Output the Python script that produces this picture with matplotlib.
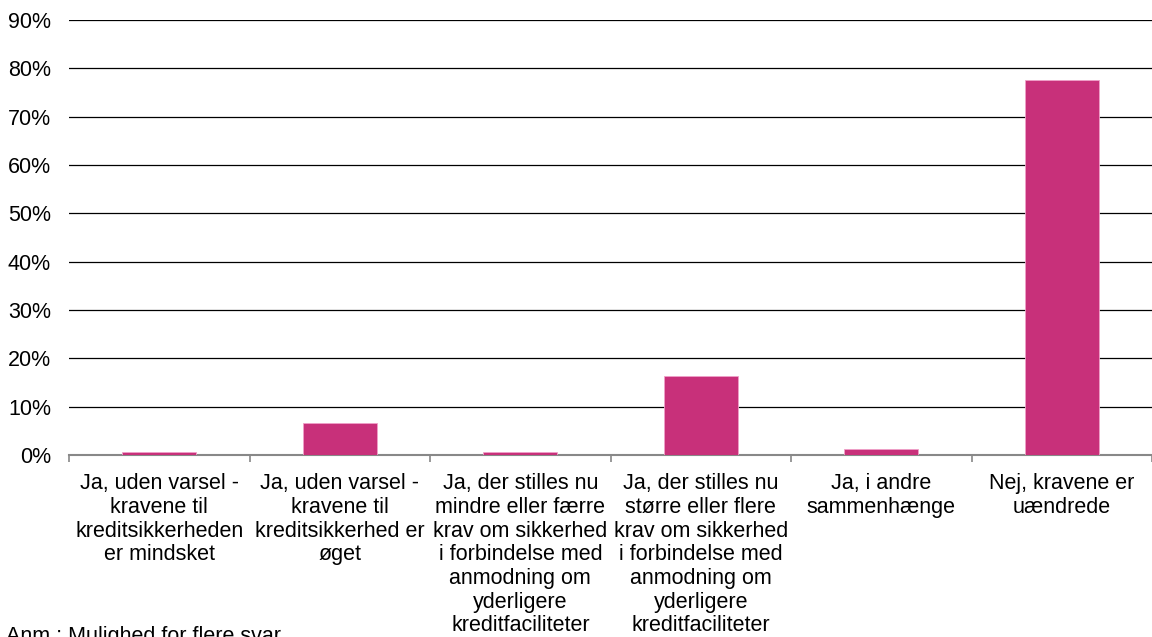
import matplotlib.pyplot as plt
import numpy as np

plt.rcParams['font.family'] = ['Liberation Sans', 'DejaVu Sans']

categories = [
    "Ja, uden varsel -\nkravene til\nkreditsikkerheden\ner mindsket",
    "Ja, uden varsel -\nkravene til\nkreditsikkerhed er\nøget",
    "Ja, der stilles nu\nmindre eller færre\nkrav om sikkerhed\ni forbindelse med\nanmodning om\nyderligere\nkreditfaciliteter",
    "Ja, der stilles nu\nstørre eller flere\nkrav om sikkerhed\ni forbindelse med\nanmodning om\nyderligere\nkreditfaciliteter",
    "Ja, i andre\nsammenhænge",
    "Nej, kravene er\nuændrede",
]
values = [0.7, 6.6, 0.7, 16.4, 1.3, 77.6]
yticks = [0, 10, 20, 30, 40, 50, 60, 70, 80, 90]

fig = plt.figure(figsize=(11.52, 6.37), dpi=100)
ax = fig.add_axes([0.06, 0.2857, 0.94, 0.683])

x = np.arange(len(categories))
ax.bar(x, values, width=0.41, color="#c8307a", edgecolor="#f0a0c8", linewidth=0.6, zorder=3)

ax.set_xlim(-0.5, len(categories) - 0.5)
ax.set_ylim(0, 90)
ax.set_yticks(yticks)
ax.set_yticklabels([f"{v}%" for v in yticks], fontsize=15.5)
ax.yaxis.grid(True, color="black", linewidth=0.9, zorder=0)
ax.tick_params(axis="y", length=0, pad=13)

ax.set_xticks(x)
ax.set_xticklabels(categories, fontsize=15.5, linespacing=1.17, va="top")
ax.tick_params(axis="x", length=0, pad=13)
ax.set_xticks(np.arange(len(categories) + 1) - 0.5, minor=True)
ax.tick_params(axis="x", which="minor", length=5, color="#888888", width=1.2)

for s in ["top", "right", "left"]:
    ax.spines[s].set_visible(False)
ax.spines["bottom"].set_color("#888888")
ax.spines["bottom"].set_linewidth(1.5)

# footnote sits at the very bottom, partly clipped like the original
fig.text(0.005, 0.017, "Anm.: Mulighed for flere svar", fontsize=15.5, va="top")

fig.savefig("out.png", dpi=100)
